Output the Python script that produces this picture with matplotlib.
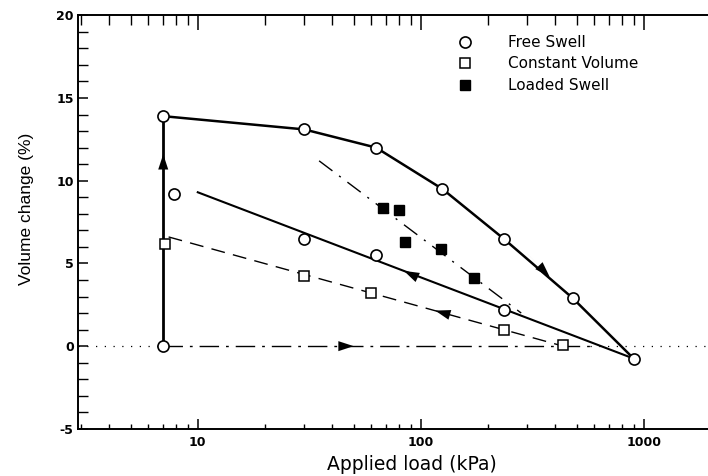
import matplotlib
matplotlib.use("Agg")
import matplotlib.pyplot as plt
from matplotlib.ticker import LogLocator, NullFormatter, MultipleLocator

plt.rcParams['font.family'] = ['DejaVu Sans']
plt.rcParams['axes.unicode_minus'] = False

# Free swell (open circles)
fs_load_x = [7, 30, 63, 125, 235, 480, 900]
fs_load_y = [13.9, 13.1, 12.0, 9.5, 6.5, 2.9, -0.75]
fs_unload_x = [7.8, 30, 63, 235]
fs_unload_y = [9.2, 6.5, 5.5, 2.2]
fs_start_x = [7]
fs_start_y = [0]

# Constant volume (open squares)
cv_x = [7.1, 30, 60, 235, 435]
cv_y = [6.2, 4.25, 3.2, 0.95, 0.05]

# Loaded swell (filled squares)
ls_x = [68, 80, 85, 123, 173]
ls_y = [8.35, 8.2, 6.3, 5.9, 4.1]

# Guide lines
swell_line_x = [7, 7]
swell_line_y = [0, 13.9]
unload_line_x = [10, 900]
unload_line_y = [9.3, -0.75]
cv_line_x = [7.4, 435]
cv_line_y = [6.6, 0.0]
ls_line_x = [35, 282]
ls_line_y = [11.2, 2.0]
zero_dashdot_x = [7, 575]
zero_dot_left_x = [2.9, 7]
zero_dot_right_x = [575, 1940]

legend_labels = ['Free Swell', 'Constant Volume', 'Loaded Swell']
x_ticks = [10, 100, 1000]
x_ticklabels = ['10', '100', '1000']

fig = plt.figure(figsize=(7.08, 4.76), dpi=100)
ax = fig.add_axes([0.110, 0.099, 0.890, 0.869])
ax.set_xscale('log')
ax.set_xlim(2.9, 1940)
ax.set_ylim(-5, 20)

# zero reference lines
ax.plot(zero_dot_left_x, [0, 0], color='black', lw=0.9, ls=(0, (1, 6)))
ax.plot(zero_dot_right_x, [0, 0], color='black', lw=0.9, ls=(0, (1, 6)))
ax.plot(zero_dashdot_x, [0, 0], color='black', lw=1.0, ls=(0, (14, 5, 2, 5)))

# vertical swell line
ax.plot(swell_line_x, swell_line_y, color='black', lw=2.0)
# free swell loading curve
ax.plot(fs_load_x, fs_load_y, color='black', lw=1.8)
# unloading line
ax.plot(unload_line_x, unload_line_y, color='black', lw=1.5)
# constant volume dashed line
ax.plot(cv_line_x, cv_line_y, color='black', lw=1.0, ls=(0, (10, 6)))
# loaded swell dash-dot line
ax.plot(ls_line_x, ls_line_y, color='black', lw=1.0, ls=(0, (12, 6, 1.5, 6)))

# arrows
def arrow(x0, y0, x1, y1):
    ax.annotate('', xy=(x1, y1), xytext=(x0, y0),
                arrowprops=dict(arrowstyle='-|>,head_length=0.55,head_width=0.18',
                                mutation_scale=20, color='black', lw=0.01,
                                shrinkA=0, shrinkB=0))

arrow(7, 10.0, 7, 11.6)
arrow(300, 5.6, 378, 4.2)
arrow(115, 3.67, 84, 4.55)
arrow(160, 1.6, 116, 2.15)
arrow(30, 0, 50, 0)

# markers
ax.plot(fs_load_x, fs_load_y, 'o', ms=8, mfc='white', mec='black', mew=1.2, ls='none', zorder=5)
ax.plot(fs_unload_x, fs_unload_y, 'o', ms=8, mfc='white', mec='black', mew=1.2, ls='none', zorder=5)
ax.plot(fs_start_x, fs_start_y, 'o', ms=8, mfc='white', mec='black', mew=1.2, ls='none', zorder=5)
ax.plot(cv_x, cv_y, 's', ms=7, mfc='white', mec='black', mew=1.1, ls='none', zorder=5)
ax.plot(ls_x, ls_y, 's', ms=7, mfc='black', mec='black', ls='none', zorder=5)

# legend (manual)
leg_styles = [dict(marker='o', ms=8, mfc='white', mec='black', mew=1.2),
              dict(marker='s', ms=6.5, mfc='white', mec='black', mew=1.1),
              dict(marker='s', ms=6.5, mfc='black', mec='black')]
leg_y = [0.935, 0.884, 0.831]
for lab, st, yy in zip(legend_labels, leg_styles, leg_y):
    ax.plot([0.614], [yy], transform=ax.transAxes, ls='none', clip_on=False, **st)
    ax.text(0.683, yy, lab, transform=ax.transAxes, fontsize=11, va='center', ha='left')

# spines & ticks
ax.spines['right'].set_visible(False)
ax.spines['top'].set_visible(False)
for s in ['left', 'bottom']:
    ax.spines[s].set_linewidth(1.4)

ax.set_xticks(x_ticks)
ax.set_xticklabels(x_ticklabels)
ax.xaxis.set_minor_locator(LogLocator(base=10, subs=range(2, 10), numticks=20))
ax.xaxis.set_minor_formatter(NullFormatter())
ax.yaxis.set_major_locator(MultipleLocator(5))
ax.yaxis.set_minor_locator(MultipleLocator(1))

ax.tick_params(axis='x', which='major', direction='in', length=7, width=1.1, top=False, bottom=True, labelsize=9, pad=5)
ax.tick_params(axis='x', which='minor', direction='in', length=3.5, width=1.0, top=False, bottom=True)
ax.tick_params(axis='y', which='major', direction='in', length=7, width=1.1, left=True, right=False, labelsize=9, pad=3)
ax.tick_params(axis='y', which='minor', direction='in', length=7, width=1.0, left=True, right=False)
for lab in ax.get_xticklabels() + ax.get_yticklabels():
    lab.set_fontweight('bold')

# top axis with longer ticks
top = ax.secondary_xaxis('top')
top.spines['top'].set_linewidth(1.4)
top.set_xticks(x_ticks)
top.xaxis.set_minor_locator(LogLocator(base=10, subs=range(2, 10), numticks=20))
top.xaxis.set_minor_formatter(NullFormatter())
top.tick_params(axis='x', which='major', direction='in', length=11, width=1.1, labeltop=False)
top.tick_params(axis='x', which='minor', direction='in', length=7, width=1.0)
top.set_xticklabels([])

ax.set_xlabel('Applied load (kPa)', fontsize=13.5)
ax.xaxis.set_label_coords(0.530, -0.063)
ax.set_ylabel('Volume change (%)', family='Liberation Sans', fontsize=12.5)
ax.yaxis.set_label_coords(-0.070, 0.531)

fig.savefig('out.png', dpi=100)
